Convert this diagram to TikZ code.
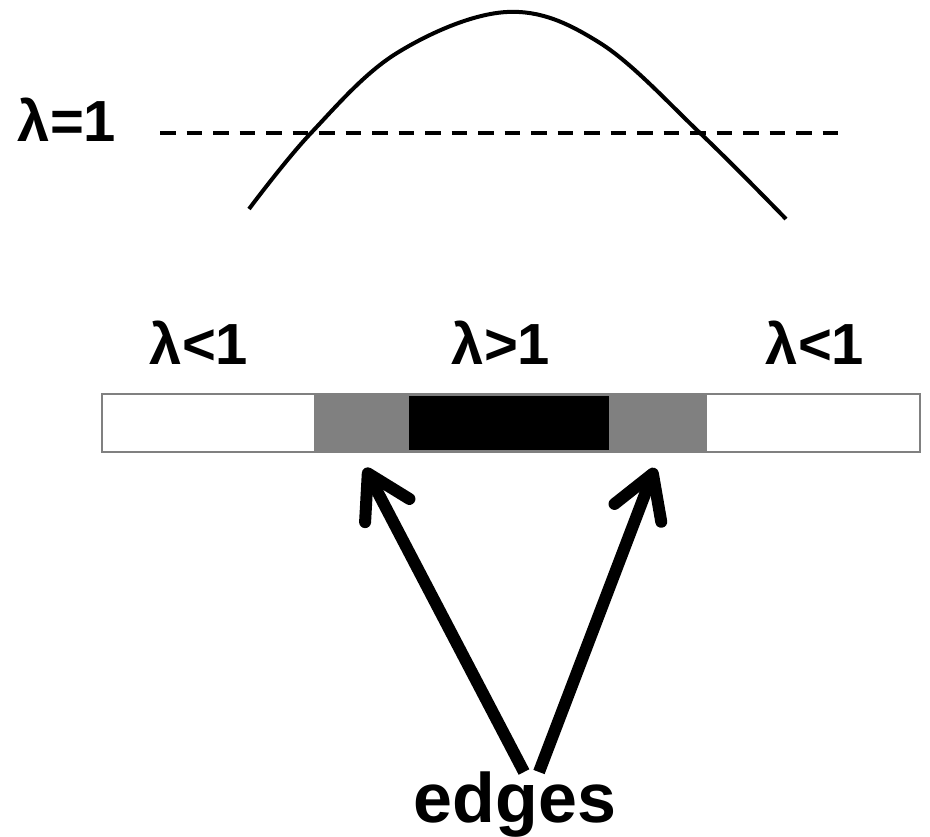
\documentclass[tikz,border=0pt]{standalone}
\usepackage{fontspec}
\setmainfont{Liberation Sans}
\usetikzlibrary{arrows.meta}
\begin{document}
\begin{tikzpicture}[x=1pt,y=-1pt,
  lab/.style={font=\fontsize{58}{58}\selectfont\bfseries, inner sep=0pt, anchor=base},
  seg/.style={inner sep=0pt, outer sep=0pt, anchor=north west},
  bigarrow/.style={line width=12pt, line cap=butt, -{Straight Barb[length=42pt, width=50pt, round]}}]
\useasboundingbox (0,0) rectangle (930,837);
% curve and threshold
\draw[line width=3.3pt, dash pattern=on 15.5pt off 11pt] (160,133) -- (845,133);
\draw[line width=4pt] plot[smooth, tension=0.6] coordinates {(249,209) (311,133) (397,53) (507,12) (600,43) (700,133) (786,219)};
\node[lab] (l1) at (67,142) {λ=1};
% region labels
\node[lab] (la) at (199,365) {λ<1};
\node[lab] (lb) at (501,365) {λ>1};
\node[lab] (lc) at (815,365) {λ<1};
% bar
\node[seg, draw=gray, line width=2pt, fill=white, minimum width=818pt, minimum height=58pt] (bar) at (102,394) {};
\node[seg, fill=gray, minimum width=393pt, minimum height=59pt] (edge) at (314,393.5) {};
\node[seg, fill=black, minimum width=200pt, minimum height=54pt] (core) at (409,396) {};
% arrows
\node[font=\fontsize{70}{70}\selectfont\bfseries, inner sep=0pt, anchor=base] (edges) at (515,822) {edges};
\coordinate (sl) at (524,772);
\coordinate (sr) at (539,772);
\coordinate (tl) at (365,468);
\coordinate (tr) at (655,468);
\draw[bigarrow] (sl) -- (tl);
\draw[bigarrow] (sr) -- (tr);
\end{tikzpicture}
\end{document}
